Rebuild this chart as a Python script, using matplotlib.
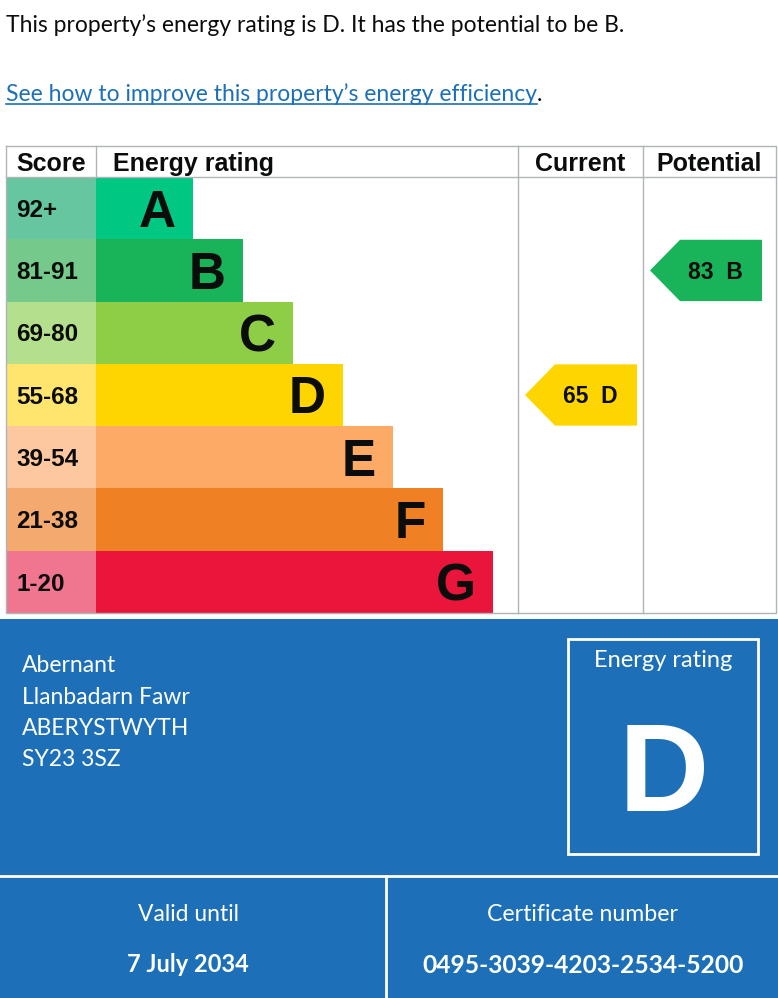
import matplotlib
matplotlib.use("Agg")
import matplotlib.pyplot as plt
from matplotlib.patches import Polygon, Rectangle

# ---- data ----
bands = ["A", "B", "C", "D", "E", "F", "G"]
score_ranges = ["92+", "81-91", "69-80", "55-68", "39-54", "21-38", "1-20"]
band_min = [92, 81, 69, 55, 39, 21, 1]
bar_colors = ["#00c781", "#19b459", "#8dce46", "#ffd500", "#fcaa65", "#ef8023", "#e9153b"]
score_colors = ["#66c6a0", "#74c98b", "#b4df8c", "#ffe46e", "#fdc7a0", "#f4a96e", "#f0768f"]

current_score = 65
potential_score = 83

intro_text = "This property\u2019s energy rating is D. It has the potential to be B."
link_text = "See how to improve this property\u2019s energy efficiency"
address_lines = ["Abernant", "Llanbadarn Fawr", "ABERYSTWYTH", "SY23 3SZ"]
rating_letter = "D"
valid_until = "7 July 2034"
cert_number = "0495-3039-4203-2534-5200"

BLUE = "#1d70b8"
GREY = "#b1b4b6"
ARIAL = "Liberation Sans"
GDS = "Lato"


def band_of(score):
    for i, m in enumerate(band_min):
        if score >= m:
            return i
    return len(bands) - 1


fig = plt.figure(figsize=(7.78, 9.98), dpi=100)
ax = fig.add_axes([0, 0, 1, 1])
ax.set_xlim(0, 778)
ax.set_ylim(998, 0)
ax.axis("off")

px = 100 / 72  # pixels per point


def cap_text(x, yc, s, size, **kw):
    # place text so that capital letters are centred on yc
    return ax.text(x, yc + 0.716 * size * px / 2, s, fontsize=size, va="baseline", **kw)


# ---- intro lines ----
cap_text(6, 24, intro_text, 16.5, family=GDS, color="#0b0c0c")
t = cap_text(6, 93, link_text, 16.5, family=GDS, color=BLUE)
fig.canvas.draw()
bb = t.get_window_extent()
x_end = bb.x1 * 778 / fig.bbox.width
ax.plot([6, x_end], [104, 104], color=BLUE, lw=1.2)
cap_text(x_end, 93, ".", 16.5, family=GDS, color="#0b0c0c")

# ---- table ----
top, head_bot, bot = 146, 177, 613
left, score_w, right = 6, 90, 776
col_cur, col_pot = 518, 643
row_h = (bot - head_bot) / len(bands)
rows = [head_bot + row_h * (i + 0.5) for i in range(len(bands))]
bar_len = [97 + 50 * i for i in range(len(bands))]

ax.barh(rows, [score_w] * len(bands), left=left, height=row_h,
        color=score_colors, linewidth=0)
ax.barh(rows, bar_len, left=left + score_w, height=row_h,
        color=bar_colors, linewidth=0)

for i, (b, s) in enumerate(zip(bands, score_ranges)):
    cap_text(16, rows[i], s, 17.5, family=ARIAL, weight="bold", color="#0b0c0c")
    cap_text(left + score_w + bar_len[i] - 17, rows[i], b, 37, family=ARIAL,
             weight="bold", color="#0b0c0c", ha="right")

# grid lines
lw = 1.0
ax.plot([left, right, right, left, left], [top, top, bot, bot, top], color=GREY, lw=lw)
ax.plot([left, right], [head_bot, head_bot], color=GREY, lw=lw)
ax.plot([left + score_w] * 2, [top, head_bot], color=GREY, lw=lw)
ax.plot([col_cur] * 2, [top, bot], color=GREY, lw=lw)
ax.plot([col_pot] * 2, [top, bot], color=GREY, lw=lw)

head_y = (top + head_bot) / 2 + 1
for x, label, ha in [(16, "Score", "left"), (113, "Energy rating", "left"),
                     ((col_cur + col_pot) / 2, "Current", "center"),
                     ((col_pot + right) / 2, "Potential", "center")]:
    cap_text(x, head_y, label, 18, family=ARIAL, weight="bold",
             color="#0b0c0c", ha=ha)


def arrow(col_left, score):
    i = band_of(score)
    y0, y1 = head_bot + row_h * i + 0.5, head_bot + row_h * (i + 1) - 0.5
    tip = col_left + 7
    body = tip + 30
    end = tip + 112
    ym = (y0 + y1) / 2
    ax.add_patch(Polygon([(tip, ym), (body, y0), (end, y0), (end, y1), (body, y1)],
                         closed=True, color=bar_colors[i], lw=0))
    cap_text(tip + 65, ym, f"{score}  {bands[i]}", 16.5, family=ARIAL,
             weight="bold", color="#0b0c0c", ha="center")


arrow(col_cur, current_score)
arrow(col_pot, potential_score)

# ---- blue summary panel ----
ax.add_patch(Rectangle((0, 619), 778, 379, color=BLUE, lw=0))
for k, line in enumerate(address_lines):
    cap_text(22, 664 + 31.3 * k, line, 16.5, family=GDS, color="white")

ax.add_patch(Rectangle((568, 639), 190, 215, fill=False, ec="white", lw=2))
cap_text(663, 659, "Energy rating", 17, family=GDS, color="white", ha="center")
cap_text(664, 766, rating_letter, 90, family=ARIAL, weight="bold",
         color="white", ha="center")

ax.plot([0, 778], [876, 876], color="white", lw=2)
ax.plot([386, 386], [876, 998], color="white", lw=2)
cap_text(189, 913, "Valid until", 16.5, family=GDS, color="white", ha="center")
cap_text(188, 964, valid_until, 17, family=GDS, weight="bold", color="white", ha="center")
cap_text(583, 913, "Certificate number", 16.7, family=GDS, color="white", ha="center")
cap_text(583, 964, cert_number, 17.7, family=GDS, weight="bold", color="white", ha="center")

fig.savefig("out.png", dpi=100)
